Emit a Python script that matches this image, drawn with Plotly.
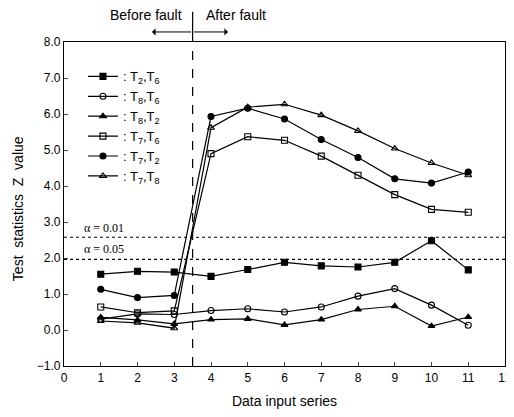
import plotly.graph_objects as go

x_series = [1, 2, 3, 4, 5, 6, 7, 8, 9, 10, 11]

t2_t6 = [1.55, 1.63, 1.61, 1.49, 1.68, 1.88, 1.78, 1.75, 1.88, 2.48, 1.67]
t8_t6 = [0.30, 0.45, 0.43, 0.54, 0.59, 0.50, 0.64, 0.94, 1.15, 0.69, 0.13]
t8_t2 = [0.35, 0.28, 0.17, 0.29, 0.31, 0.14, 0.29, 0.57, 0.66, 0.11, 0.36]
t7_t6 = [0.64, 0.48, 0.53, 4.90, 5.37, 5.27, 4.83, 4.30, 3.76, 3.35, 3.27]
t7_t2 = [1.13, 0.90, 0.96, 5.93, 6.16, 5.86, 5.29, 4.79, 4.20, 4.08, 4.39]
t7_t8 = [0.25, 0.20, 0.05, 5.62, 6.19, 6.27, 5.97, 5.53, 5.04, 4.64, 4.30]

series_names = [
    ": T<sub>2</sub>,T<sub>6</sub>",
    ": T<sub>8</sub>,T<sub>6</sub>",
    ": T<sub>8</sub>,T<sub>2</sub>",
    ": T<sub>7</sub>,T<sub>6</sub>",
    ": T<sub>7</sub>,T<sub>2</sub>",
    ": T<sub>7</sub>,T<sub>8</sub>",
]
series_values = [t2_t6, t8_t6, t8_t2, t7_t6, t7_t2, t7_t8]
series_symbols = ["square", "circle-open", "triangle-up", "square-open", "circle", "triangle-up-open"]

alpha_levels = [2.576, 1.96]
alpha_labels = ["α = 0.01", "α = 0.05"]
fault_x = 3.5

x_ticks = list(range(0, 13))
y_ticks = [-1, 0, 1, 2, 3, 4, 5, 6, 7, 8]

fig = go.Figure()
for name, vals, sym in zip(series_names, series_values, series_symbols):
    fig.add_trace(go.Scatter(
        x=x_series, y=vals, name=name, mode="lines+markers",
        line=dict(color="black", width=1.2),
        marker=dict(symbol=sym, size=6, color="black",
                    line=dict(color="black", width=1.1)),
    ))

for lvl in alpha_levels:
    fig.add_shape(type="line", xref="x", yref="y", x0=0, x1=12, y0=lvl, y1=lvl,
                  line=dict(color="black", width=1.2, dash="dot"))

fig.add_annotation(x=0.5, y=alpha_levels[0] + 0.26, xref="x", yref="y", text=alpha_labels[0],
                   showarrow=False, xanchor="left", yanchor="middle",
                   font=dict(family="Liberation Serif", size=12, color="black"))
fig.add_annotation(x=0.5, y=alpha_levels[1] + 0.28, xref="x", yref="y", text=alpha_labels[1],
                   showarrow=False, xanchor="left", yanchor="middle",
                   font=dict(family="Liberation Serif", size=12, color="black"))

# fault line
fig.add_shape(type="line", xref="x", yref="y", x0=fault_x, x1=fault_x, y0=-1, y1=8,
              line=dict(color="black", width=1.2, dash="dash"))
fig.add_shape(type="line", xref="x", yref="paper", x0=fault_x, x1=fault_x, y0=1.0, y1=1.093,
              line=dict(color="black", width=1.2))

# double arrow
for tip, off in [(0.1995, 40.6), (0.3719, -35.4)]:
    fig.add_annotation(x=tip, y=1.031, xref="paper", yref="paper",
                       ax=off, ay=0, axref="pixel", ayref="pixel",
                       text="", showarrow=True, arrowhead=1, arrowsize=1.2,
                       arrowwidth=1, arrowcolor="black")

fig.add_annotation(x=0.272, y=1.083, xref="paper", yref="paper", text="Before fault",
                   showarrow=False, xanchor="right", yanchor="middle",
                   font=dict(family="Liberation Sans", size=14, color="black"))
fig.add_annotation(x=0.3175, y=1.083, xref="paper", yref="paper", text="After fault",
                   showarrow=False, xanchor="left", yanchor="middle",
                   font=dict(family="Liberation Sans", size=14, color="black"))

# y axis title
fig.add_annotation(x=-0.104, y=0.4846, xref="paper", yref="paper",
                   text="Test  statistics  Z  value", textangle=-90,
                   showarrow=False, xanchor="center", yanchor="middle",
                   font=dict(family="Liberation Sans", size=14, color="black"))

# page body has an 8px margin: figure sized so it fits the window without scrollbars
fig.update_layout(
    width=506, height=401,
    margin=dict(l=56, r=9, t=34, b=43),
    paper_bgcolor="white", plot_bgcolor="white",
    font=dict(family="Liberation Sans", size=12, color="black"),
    showlegend=True,
    legend=dict(x=0.043, y=0.94, xanchor="left", yanchor="top",
                bgcolor="rgba(0,0,0,0)", font=dict(size=13),
                tracegroupgap=0, itemwidth=30),
    xaxis=dict(range=[0, 12], tickvals=x_ticks, ticks="inside", ticklen=4,
               showline=True, linecolor="black", linewidth=1.2, mirror=True,
               showgrid=False, zeroline=False, automargin=False,
               tickfont=dict(size=12),
               title=dict(text="Data input series", font=dict(size=14), standoff=13)),
    yaxis=dict(range=[-1, 8], tickvals=y_ticks, tickformat=".1f", ticks="inside", ticklen=4,
               showline=True, linecolor="black", linewidth=1.2, mirror=True,
               showgrid=False, zeroline=False, automargin=False,
               tickfont=dict(size=12)),
)

fig.write_html("out.html")
